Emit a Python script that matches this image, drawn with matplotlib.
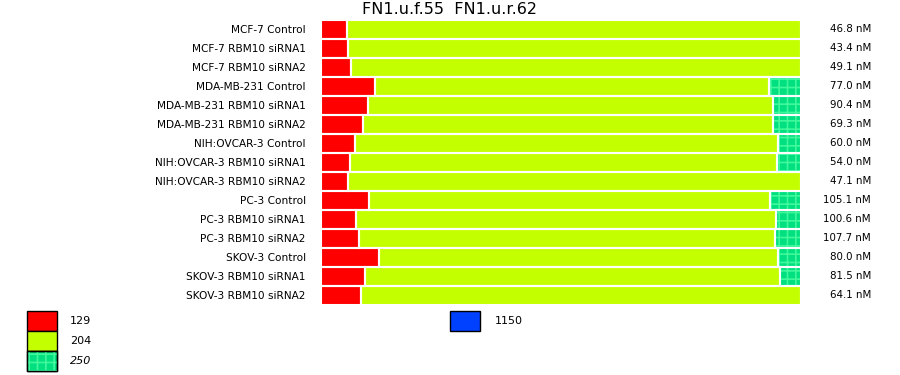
import matplotlib
matplotlib.use("Agg")
import matplotlib.pyplot as plt
from matplotlib.patches import Rectangle
import numpy as np

labels = ["MCF-7 Control", "MCF-7 RBM10 siRNA1", "MCF-7 RBM10 siRNA2",
          "MDA-MB-231 Control", "MDA-MB-231 RBM10 siRNA1", "MDA-MB-231 RBM10 siRNA2",
          "NIH:OVCAR-3 Control", "NIH:OVCAR-3 RBM10 siRNA1", "NIH:OVCAR-3 RBM10 siRNA2",
          "PC-3 Control", "PC-3 RBM10 siRNA1", "PC-3 RBM10 siRNA2",
          "SKOV-3 Control", "SKOV-3 RBM10 siRNA1", "SKOV-3 RBM10 siRNA2"]
conc = [46.8, 43.4, 49.1, 77.0, 90.4, 69.3, 60.0, 54.0, 47.1,
        105.1, 100.6, 107.7, 80.0, 81.5, 64.1]
# percent of each length class
p129 = [5.4, 5.6, 6.25, 11.25, 9.8, 8.75, 7.1, 6.0, 5.6, 10.0, 7.3, 7.9, 12.1, 9.2, 8.3]
p250 = [0, 0, 0, 6.7, 5.8, 5.8, 4.8, 5.0, 0, 6.5, 5.2, 5.4, 4.8, 4.4, 0]
p204 = [100 - a - b for a, b in zip(p129, p250)]

legend_top = ["129", "204", "250"]
legend_right = ["1150"]

red = "#ff0000"
lime = "#c4ff00"
hgreen = "#00e080"
hlight = "#40f89c"
blue = "#0040ff"

plt.rcParams["font.family"] = ["DejaVu Sans"]
plt.rcParams["hatch.linewidth"] = 1.2

fig = plt.figure(figsize=(9, 3.75), dpi=100)
ax = fig.add_axes([321 / 900, 1 - 304.8 / 375, 480 / 900, (304.8 - 19.8) / 375])

y = np.arange(len(labels))
a = np.array(p129)
b = np.array(p204)
c = np.array(p250)

ax.barh(y, a, height=1.0, color=red, lw=0)
ax.barh(y, b, left=a, height=1.0, color=lime, lw=0)
ax.barh(y, c, left=a + b, height=1.0, color=hgreen, lw=0)
ax.barh(y, c, left=a + b, height=1.0, facecolor="none", edgecolor=hlight, lw=0, hatch="++")
for left, w in [(0, a), (a, b), (a + b, c)]:
    ax.barh(y, w, left=left, height=1.0, facecolor="none", edgecolor="white", lw=1.5)

ax.set_xlim(0, 100)
ax.set_ylim(len(labels) - 0.5, -0.5)
ax.set_yticks(y)
ax.set_yticklabels(labels, fontsize=7.6)
ax.tick_params(axis="y", length=0, pad=11)
ax.set_xticks([])
for s in ax.spines.values():
    s.set_visible(False)

for i, v in enumerate(conc):
    ax.text((871 - 321) / 480, i, "%.1f nM" % v, transform=ax.get_yaxis_transform(),
            ha="right", va="center", fontsize=7.4)

# overlay axes in pixel units for title and legend
lg = fig.add_axes([0, 0, 1, 1])
lg.set_xlim(0, 900)
lg.set_ylim(375, 0)
lg.axis("off")
lg.text(449, 10, "FN1.u.f.55  FN1.u.r.62", ha="center", va="center", fontsize=11.5)

cols = [red, lime, hgreen]
for k, name in enumerate(legend_top):
    y0 = 310.7 + 20 * k
    lg.add_patch(Rectangle((27.3, y0), 30, 20, facecolor=cols[k], edgecolor="black", lw=1))
    if k == 2:
        lg.add_patch(Rectangle((27.3, y0), 30, 20, facecolor="none", edgecolor=hlight,
                               lw=0, hatch="++"))
        lg.add_patch(Rectangle((27.3, y0), 30, 20, facecolor="none", edgecolor="black", lw=1))
    lg.text(70, y0 + 10, name, ha="left", va="center", fontsize=8,
            style="italic" if k == 2 else "normal")

lg.add_patch(Rectangle((450, 310.7), 30, 20, facecolor=blue, edgecolor="black", lw=1))
lg.text(495, 320.7, legend_right[0], ha="left", va="center", fontsize=8)

fig.savefig("out.png", dpi=100)
